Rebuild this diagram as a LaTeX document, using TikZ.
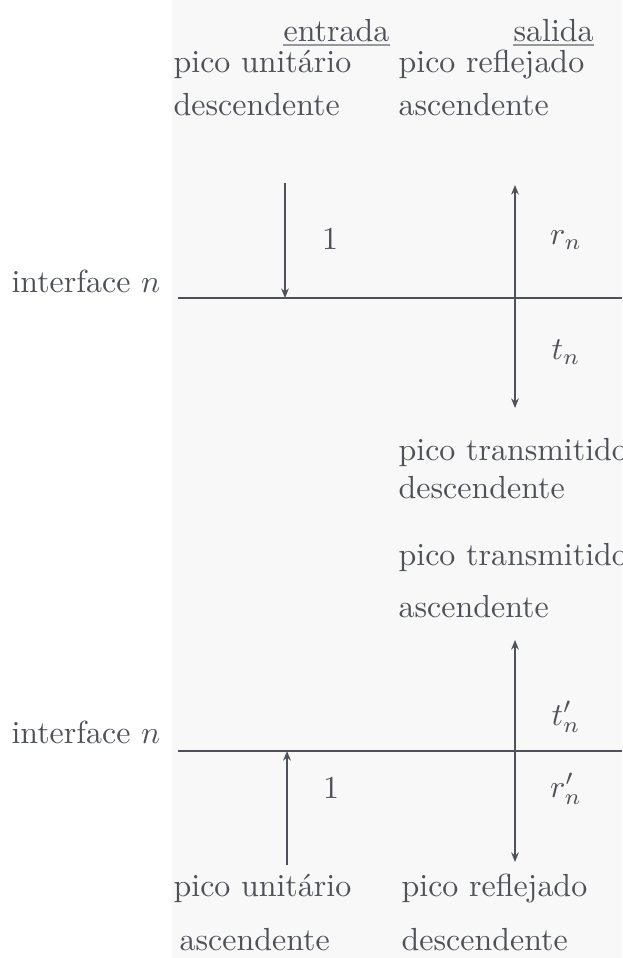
\documentclass[tikz,border=0pt]{standalone}
\usepackage{tikz}
\usetikzlibrary{arrows.meta,positioning}
\definecolor{ink}{RGB}{78,82,88}
\definecolor{paper}{RGB}{248,248,248}

\begin{document}
\begin{tikzpicture}[x=0.011cm,y=-0.011cm,ink,
    lbl/.style={inner sep=0pt,anchor=base west,text=ink},
    coef/.style={inner sep=0pt,anchor=base,text=ink},
    iface/.style={line width=0.65pt,draw=ink},
    pulse/.style={line width=0.65pt,draw=ink,-{Stealth[length=3pt,width=2.4pt]}},
    twoway/.style={line width=0.65pt,draw=ink,{Stealth[length=3pt,width=2.4pt]}-{Stealth[length=3pt,width=2.4pt]}},
    uline/.style={line width=0.5pt,draw=black!40}]
  \useasboundingbox (0,0) rectangle (622,958);
  \fill[paper] (172,0) rectangle (622,958);
  % column heads
  \node[lbl] (entrada) at (283,42) {entrada};
  \node[lbl] (salida) at (513,42) {salida};
  \draw[uline] ([yshift=-1pt]entrada.base west) -- ([yshift=-1pt]entrada.base east);
  \draw[uline] ([yshift=-1pt]salida.base west) -- ([yshift=-1pt]salida.base east);
  % upper case: pulse coming down
  \node[lbl] (inA1) at (173,73) {pico unitário};
  \node[lbl] (inA2) at (173,116) {descendente};
  \node[lbl] (refA1) at (398,73) {pico reflejado};
  \node[lbl] (refA2) at (398,116) {ascendente};
  \node[lbl,anchor=base east] (ifA) at (161,293) {interface $n$};
  \coordinate (lineAw) at (178,298);
  \coordinate (lineAe) at (622,298);
  \draw[iface] (lineAw) -- (lineAe);
  \coordinate (inAtop) at (285,183);
  \coordinate (inAhit) at (285,298);
  \draw[pulse] (inAtop) -- (inAhit);
  \coordinate (outAtop) at (515,185);
  \coordinate (outAbot) at (515,408);
  \draw[twoway] (outAtop) -- (outAbot);
  \node[coef] (oneA) at (330,250) {1};
  \node[coef] (rA) at (566,245) {$r_n$};
  \node[coef] (tA) at (566,360) {$t_n$};
  \node[lbl] (trA1) at (398,460) {pico transmitido};
  \node[lbl] (trA2) at (398,498) {descendente};
  % lower case: pulse coming up
  \node[lbl] (trB1) at (398,565) {pico transmitido};
  \node[lbl] (trB2) at (398,617) {ascendente};
  \node[lbl,anchor=base east] (ifB) at (161,743) {interface $n$};
  \coordinate (lineBw) at (178,751);
  \coordinate (lineBe) at (622,751);
  \draw[iface] (lineBw) -- (lineBe);
  \coordinate (inBbot) at (287,865);
  \coordinate (inBhit) at (287,751);
  \draw[pulse] (inBbot) -- (inBhit);
  \coordinate (outBtop) at (515,640);
  \coordinate (outBbot) at (515,862);
  \draw[twoway] (outBtop) -- (outBbot);
  \node[coef] (oneB) at (331,798) {1};
  \node[coef] (tB) at (566,725) {$t'_n$};
  \node[coef] (rB) at (566,797) {$r'_n$};
  \node[lbl] (inB1) at (173,896) {pico unitário};
  \node[lbl] (inB2) at (179,950) {ascendente};
  \node[lbl] (refB1) at (401,896) {pico reflejado};
  \node[lbl] (refB2) at (401,950) {descendente};
\end{tikzpicture}
\end{document}
